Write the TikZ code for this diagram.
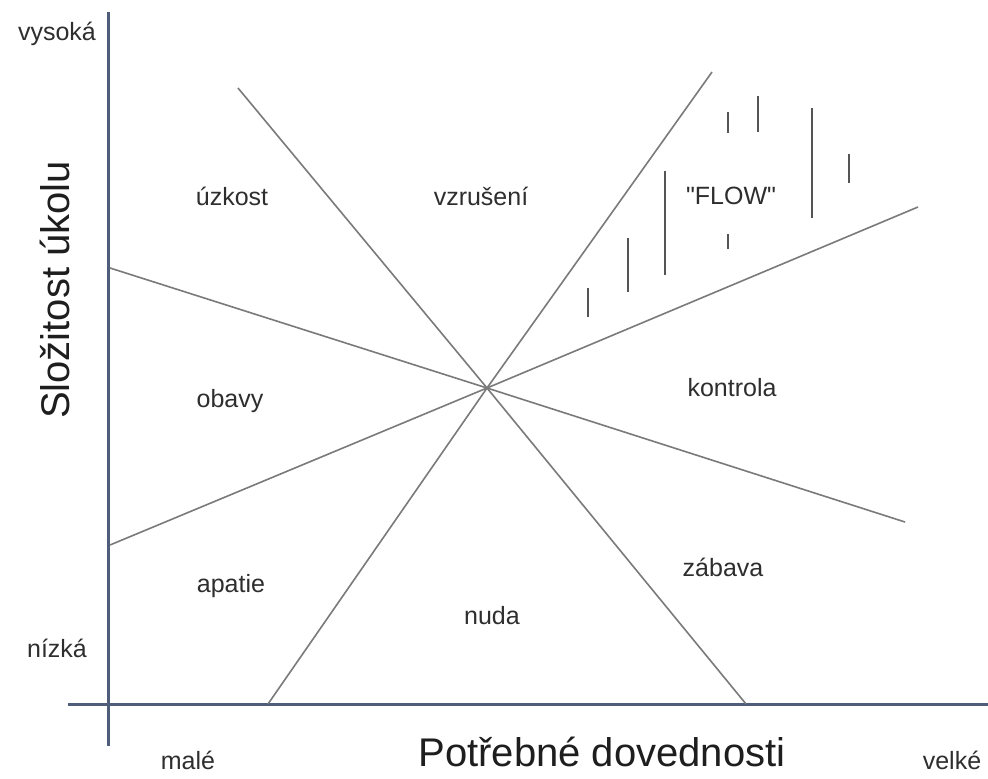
\documentclass[tikz,border=0pt]{standalone}
\usepackage{fontspec}
\setmainfont{Liberation Sans}[Ligatures=TeXOff]
\definecolor{axiscol}{HTML}{4E5D7A}
\definecolor{linecol}{HTML}{7A7A7A}
\definecolor{markcol}{HTML}{555555}
\definecolor{txtcol}{HTML}{2E2E2E}
\definecolor{bigcol}{HTML}{1E1E1E}
\begin{document}
\begin{tikzpicture}[x=1pt,y=-1pt,
  axis/.style={draw=axiscol,line width=3pt},
  diag/.style={draw=linecol,line width=1.6pt},
  flowmark/.style={draw=markcol,line width=2pt},
  lab/.style={text=txtcol,font=\fontsize{25}{28}\selectfont,inner sep=0pt},
  biglab/.style={text=bigcol,font=\fontsize{40}{44}\selectfont,inner sep=0pt}]
\useasboundingbox[fill=white] (0,0) rectangle (988,779);
% axes
\coordinate (vtop) at (108,12);
\coordinate (vbot) at (108,746);
\coordinate (hleft) at (68,704);
\coordinate (hright) at (988,704);
\draw[axis] (vtop) -- (vbot);
\draw[axis] (hleft) -- (hright);
% diagonal lines through the centre
\coordinate (c) at (487,388);
\coordinate (a1) at (238,88);  \coordinate (a2) at (746,704);
\coordinate (b1) at (712,72);  \coordinate (b2) at (268,704);
\coordinate (d1) at (110,268); \coordinate (d2) at (905,522);
\coordinate (e1) at (110,545); \coordinate (e2) at (918,207);
\draw[diag] (a1) -- (c) -- (a2);
\draw[diag] (b1) -- (c) -- (b2);
\draw[diag] (d1) -- (c) -- (d2);
\draw[diag] (e1) -- (c) -- (e2);
% FLOW marks
\foreach \x/\ya/\yb [count=\i] in {728/112/133, 758/96/132, 812/108/218, 849/154/183, 665/171/275, 728/234/249, 628/238/292, 588/288/317}{
  \coordinate (m\i a) at (\x,\ya);
  \coordinate (m\i b) at (\x,\yb);
  \draw[flowmark] (m\i a) -- (m\i b);
}
% region labels
\node[lab] (uzkost) at (232,196) {úzkost};
\node[lab] (vzruseni) at (481,196) {vzrušení};
\node[lab] (flow) at (731,196) {"FLOW"};
\node[lab] (obavy) at (230,401) {obavy};
\node[lab] (kontrola) at (732,388) {kontrola};
\node[lab] (apatie) at (231,586) {apatie};
\node[lab] (nuda) at (492,616) {nuda};
\node[lab] (zabava) at (723,567) {zábava};
% axis labels
\node[lab] (vysoka) at (57,34) {vysoká};
\node[lab] (nizka) at (57,648) {nízká};
\node[lab] (male) at (188,760) {malé};
\node[lab] (velke) at (952,760) {velké};
\node[biglab] (xlab) at (602,752) {Potřebné dovednosti};
\node[biglab,rotate=90] (ylab) at (55,290) {Složitost úkolu};
\end{tikzpicture}
\end{document}
